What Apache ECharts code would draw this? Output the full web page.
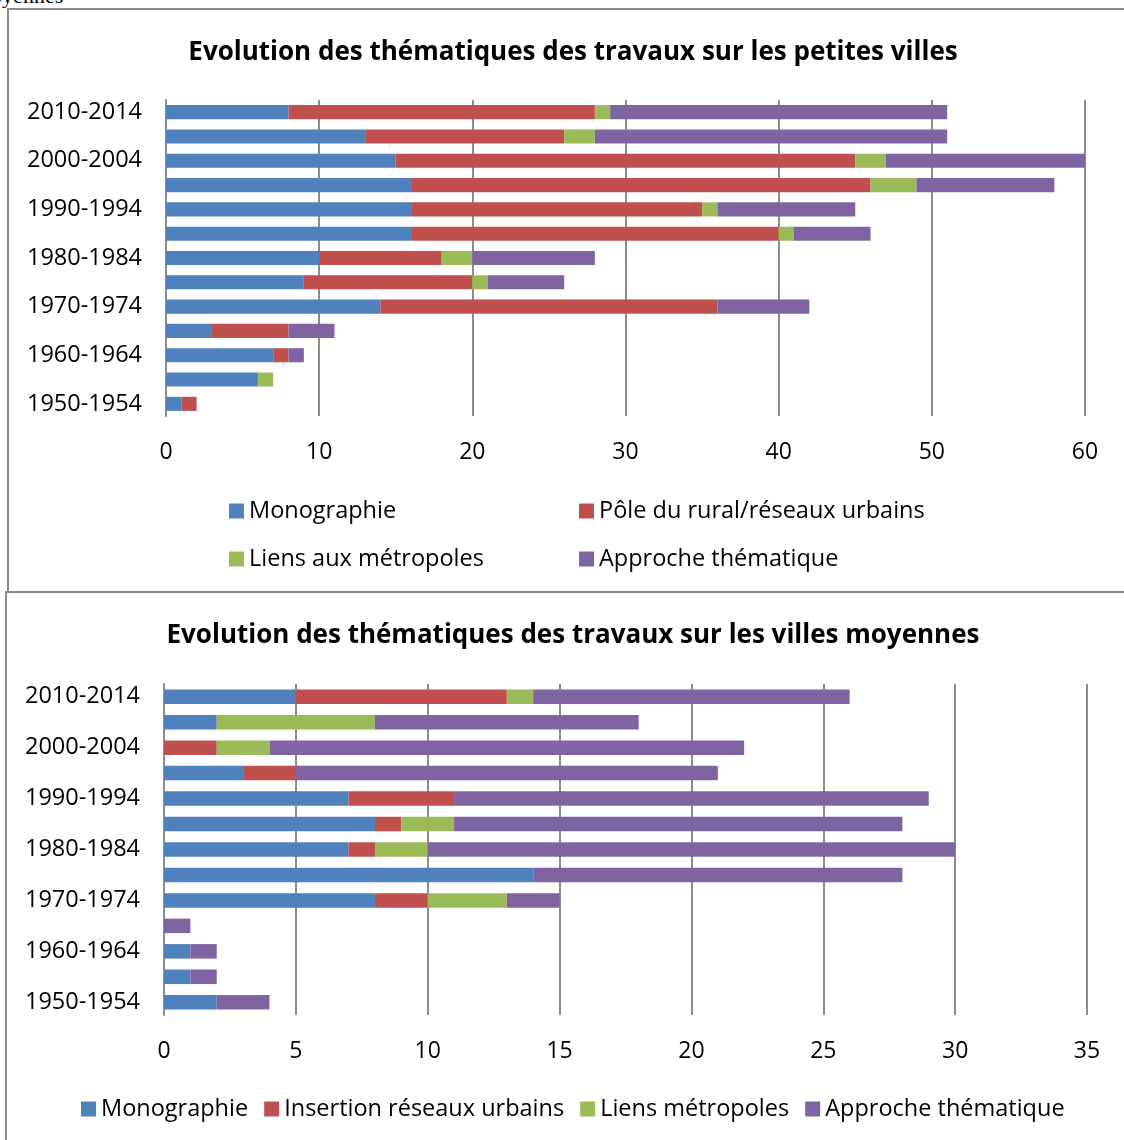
<!DOCTYPE html>
<html>
<head>
<meta charset="utf-8">
<script src="https://cdn.jsdelivr.net/npm/echarts@6/dist/echarts.min.js"></script>
<style>
  html, body { margin: 0; padding: 0; background: #fff; overflow: hidden; }
  .page { position: relative; width: 1124px; height: 1140px; overflow: hidden; }
  .cut-text { position: absolute; left: -26px; top: -17px; font: 22px 'Liberation Serif', serif; color: #000; }
  .box { position: absolute; box-sizing: border-box; border: 2px solid #8a8a8a; background: #fff; }
  .box-top { left: 7px; top: 8px; width: 1200px; height: 585px; }
  .box-bottom { left: 5px; top: 591px; width: 1200px; height: 700px; }
  #chart { position: absolute; left: 0; top: 0; width: 1124px; height: 1140px; }
</style>
</head>
<body>
<div class="page">
  <div class="cut-text">moyennes</div>
  <div class="box box-top"></div>
  <div class="box box-bottom"></div>
  <div id="chart"></div>
</div>
<script>
// periodes, du bas vers le haut
const periods = ['1950-1954', '1955-1959', '1960-1964', '1965-1969', '1970-1974', '1975-1979',
  '1980-1984', '1985-1989', '1990-1994', '1995-1999', '2000-2004', '2005-2009', '2010-2014'];

// petites villes
const pvMonographie = [1, 6, 7, 3, 14, 9, 10, 16, 16, 16, 15, 13, 8];
const pvPole = [1, 0, 1, 5, 22, 11, 8, 24, 19, 30, 30, 13, 20];
const pvLiens = [0, 1, 0, 0, 0, 1, 2, 1, 1, 3, 2, 2, 1];
const pvApproche = [0, 0, 1, 3, 6, 5, 8, 5, 9, 9, 13, 23, 22];

// villes moyennes
const vmMonographie = [2, 1, 1, 0, 8, 14, 7, 8, 7, 3, 0, 2, 5];
const vmInsertion = [0, 0, 0, 0, 2, 0, 1, 1, 4, 2, 2, 0, 8];
const vmLiens = [0, 0, 0, 0, 3, 0, 2, 2, 0, 0, 2, 6, 1];
const vmApproche = [2, 1, 1, 1, 2, 14, 20, 17, 18, 16, 18, 10, 12];

const FONT = 'Open Sans';
const colors = { blue: '#4f81bd', red: '#c0504d', green: '#9bbb59', purple: '#8064a2' };

function bar(name, data, color, idx, gap) {
  return {
    type: 'bar',
    name,
    data,
    stack: 'total' + idx,
    xAxisIndex: idx,
    yAxisIndex: idx,
    barCategoryGap: gap,
    itemStyle: { color },
    animation: false,
  };
}

function xAxis(idx, max) {
  return {
    type: 'value',
    gridIndex: idx,
    min: 0,
    max,
    interval: idx === 0 ? 10 : 5,
    axisLine: { show: false },
    axisTick: { show: false },
    axisLabel: { color: '#000', fontFamily: FONT, fontSize: 23, margin: 25 },
    splitLine: { lineStyle: { color: '#8c8c8c', width: 2 } },
  };
}

function yAxis(idx) {
  return {
    type: 'category',
    gridIndex: idx,
    data: periods,
    axisLine: { lineStyle: { color: '#8c8c8c', width: 2 } },
    axisTick: { show: false },
    axisLabel: { color: '#000', fontFamily: FONT, fontSize: 23.5, margin: 24, interval: 1 },
  };
}

const legendText = { color: '#000', fontFamily: FONT, fontSize: 23.5 };
function legendItem(name, left, top) {
  return {
    data: [name],
    left, top,
    itemWidth: 15, itemHeight: 15,
    icon: 'rect',
    textStyle: legendText,
    selectedMode: false,
  };
}

const chart = echarts.init(document.getElementById('chart'), null, { renderer: 'canvas' });
chart.setOption({
  animation: false,
  title: [
    {
      text: 'Evolution des thématiques des travaux sur les petites villes',
      left: 568, top: 35, textAlign: 'center',
      textStyle: { fontFamily: FONT, fontWeight: 'bold', fontSize: 26, color: '#000' },
    },
    {
      text: 'Evolution des thématiques des travaux sur les villes moyennes',
      left: 568, top: 618, textAlign: 'center',
      textStyle: { fontFamily: FONT, fontWeight: 'bold', fontSize: 26, color: '#000' },
    },
  ],
  legend: [
    legendItem('Monographie', 224, 494),
    legendItem('Pôle du rural/réseaux urbains', 574, 494),
    legendItem('Liens aux métropoles', 224, 542),
    legendItem('Approche thématique', 574, 542),
    {
      data: ['Monographie', 'Insertion réseaux urbains', 'Liens métropoles', 'Approche thématique'],
      left: 76, top: 1092,
      itemWidth: 15, itemHeight: 15, itemGap: 16,
      icon: 'rect',
      textStyle: legendText,
      selectedMode: false,
    },
  ],
  grid: [
    { left: 166, right: 39, top: 100, height: 316 },
    { left: 164, right: 37, top: 684, height: 331 },
  ],
  xAxis: [xAxis(0, 60), xAxis(1, 35)],
  yAxis: [yAxis(0), yAxis(1)],
  series: [
    bar('Monographie', pvMonographie, colors.blue, 0, '42%'),
    bar('Pôle du rural/réseaux urbains', pvPole, colors.red, 0, '42%'),
    bar('Liens aux métropoles', pvLiens, colors.green, 0, '42%'),
    bar('Approche thématique', pvApproche, colors.purple, 0, '42%'),
    bar('Monographie', vmMonographie, colors.blue, 1, '43%'),
    bar('Insertion réseaux urbains', vmInsertion, colors.red, 1, '43%'),
    bar('Liens métropoles', vmLiens, colors.green, 1, '43%'),
    bar('Approche thématique', vmApproche, colors.purple, 1, '43%'),
  ],
});
</script>
</body>
</html>
